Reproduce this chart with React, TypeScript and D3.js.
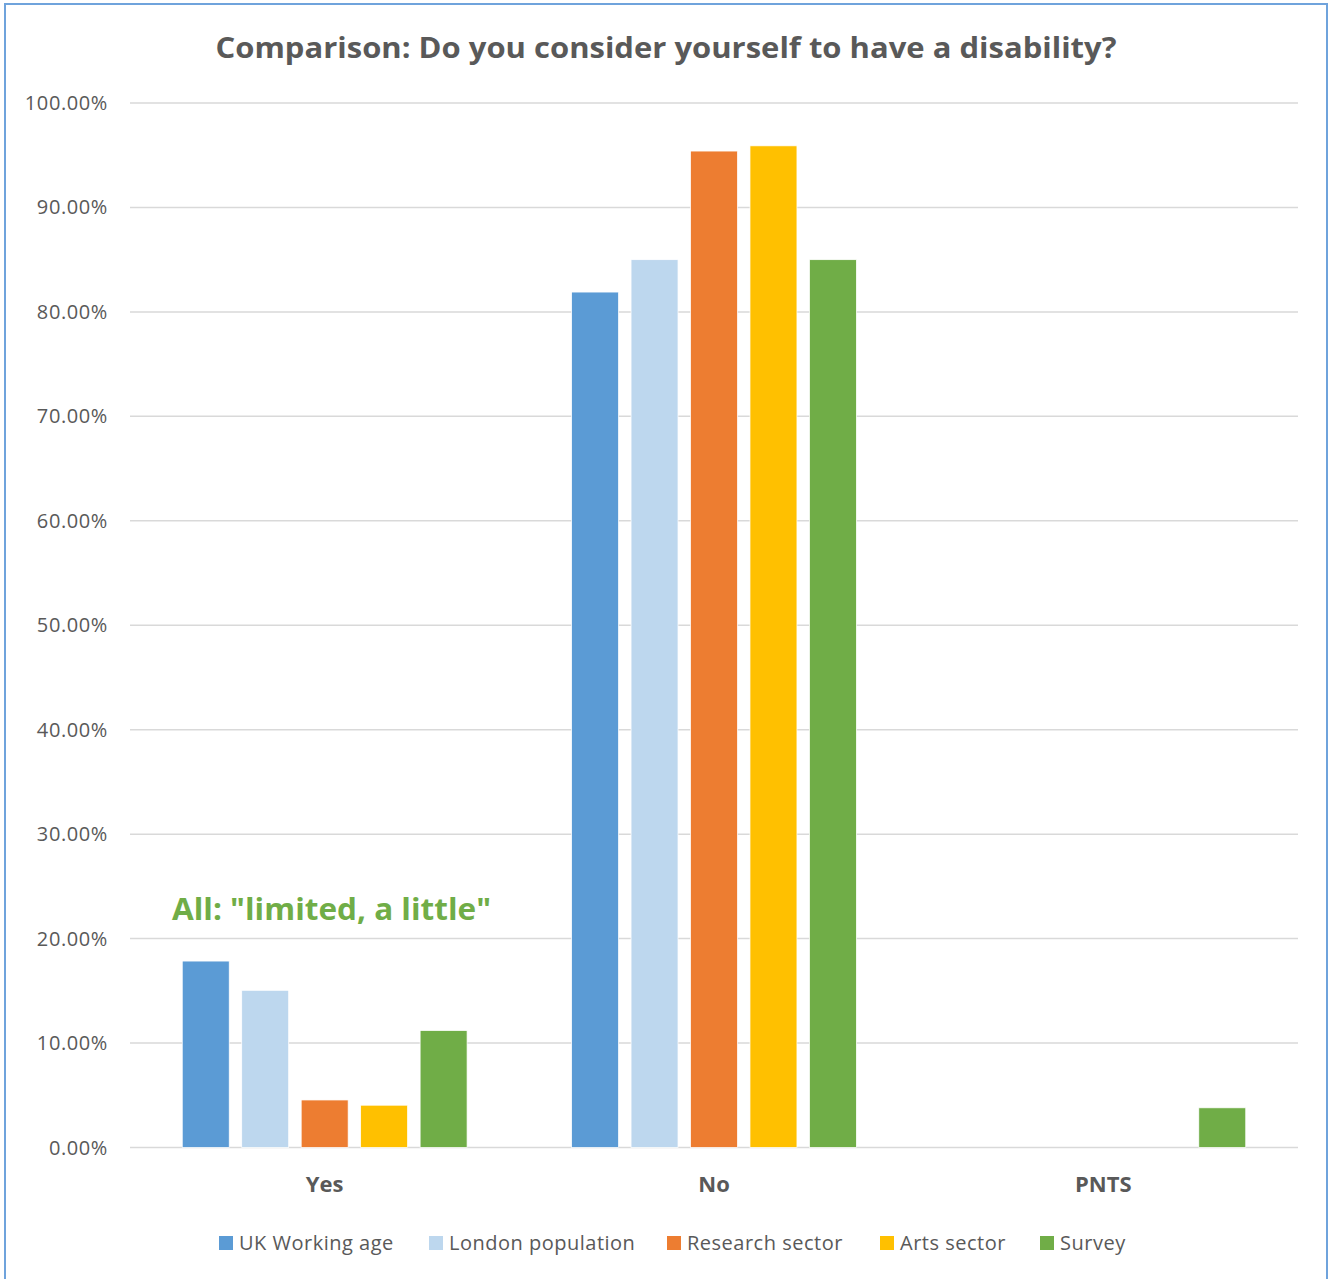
import React from "react";
import * as d3 from "d3";

// Response categories along the x axis
const categories = ["Yes", "No", "PNTS"];

// Comparison groups (one bar per group in each category)
const seriesNames = ["UK Working age", "London population", "Research sector", "Arts sector", "Survey"];
const seriesColors = ["#5B9BD5", "#BDD7EE", "#ED7D31", "#FFC000", "#70AD47"];

// Share of respondents (%) per series, ordered as categories
const ukWorkingAge = [17.85, 81.9, 0];
const londonPopulation = [15.05, 85.0, 0];
const researchSector = [4.55, 95.4, 0];
const artsSector = [4.05, 95.9, 0];
const survey = [11.2, 85.0, 3.8];

const seriesValues = [ukWorkingAge, londonPopulation, researchSector, artsSector, survey];

const yTicks = [0, 10, 20, 30, 40, 50, 60, 70, 80, 90, 100];

const W = 1332;
const H = 1279;
const plot = { left: 130, right: 1298, top: 103, bottom: 1147.5 };
const textGrey = "#595959";
const font = "'Open Sans', 'Liberation Sans', sans-serif";

export default function App() {
  const x0 = d3.scaleBand<string>().domain(categories).range([plot.left, plot.right]);
  const groupOffset = 46;
  const x1 = d3
    .scaleBand<string>()
    .domain(seriesNames)
    .range([groupOffset, x0.bandwidth() - groupOffset])
    .paddingInner(0.21)
    .paddingOuter(0.105);
  const y = d3.scaleLinear().domain([0, 100]).range([plot.bottom, plot.top]);

  const legendX = [219, 429, 667, 880, 1040];

  return (
    <svg
      width={W}
      height={H}
      style={{ position: "absolute", left: 0, top: 0, background: "#fff" }}
      fontFamily={font}
    >
      <rect x={0} y={0} width={W} height={H} fill="#fff" />
      <rect x={5} y={4} width={1322} height={1300} fill="none" stroke="#6FA3DC" strokeWidth={2} />

      <text
        x={666}
        y={58}
        textAnchor="middle"
        fontSize={29}
        fontWeight="bold"
        fill={textGrey}
        textLength={901}
        lengthAdjust="spacingAndGlyphs"
      >
        Comparison: Do you consider yourself to have a disability?
      </text>

      {yTicks.map((t) => (
        <g key={t}>
          <line
            x1={plot.left}
            x2={plot.right}
            y1={y(t)}
            y2={y(t)}
            stroke="#D9D9D9"
            strokeWidth={1.5}
          />
          <text
            x={108}
            y={y(t) + 7}
            textAnchor="end"
            fontSize={20}
            fill={textGrey}
            letterSpacing={0.6}
          >
            {t.toFixed(2)}%
          </text>
        </g>
      ))}

      {categories.map((c, ci) => (
        <g key={c} transform={`translate(${x0(c)},0)`}>
          {seriesNames.map((s, si) => {
            const v = seriesValues[si][ci];
            if (!v) return null;
            return (
              <rect
                key={s}
                x={x1(s)}
                y={y(v)}
                width={x1.bandwidth()}
                height={y(0) - y(v)}
                fill={seriesColors[si]}
                stroke="#fff"
                strokeWidth={0.75}
              />
            );
          })}
          <text
            x={x0.bandwidth() / 2}
            y={1192}
            textAnchor="middle"
            fontSize={22}
            fontWeight="bold"
            fill={textGrey}
          >
            {c}
          </text>
        </g>
      ))}

      <text x={172} y={920} fontSize={31} fontWeight="bold" fill="#70AD47" textLength={319} lengthAdjust="spacingAndGlyphs">
        All: "limited, a little"
      </text>

      {seriesNames.map((s, i) => (
        <g key={s} transform={`translate(${legendX[i]},1236)`}>
          <rect x={0} y={0} width={14} height={14} fill={seriesColors[i]} />
          <text x={20} y={14} fontSize={20} fill={textGrey} letterSpacing={0.5}>
            {s}
          </text>
        </g>
      ))}
    </svg>
  );
}
